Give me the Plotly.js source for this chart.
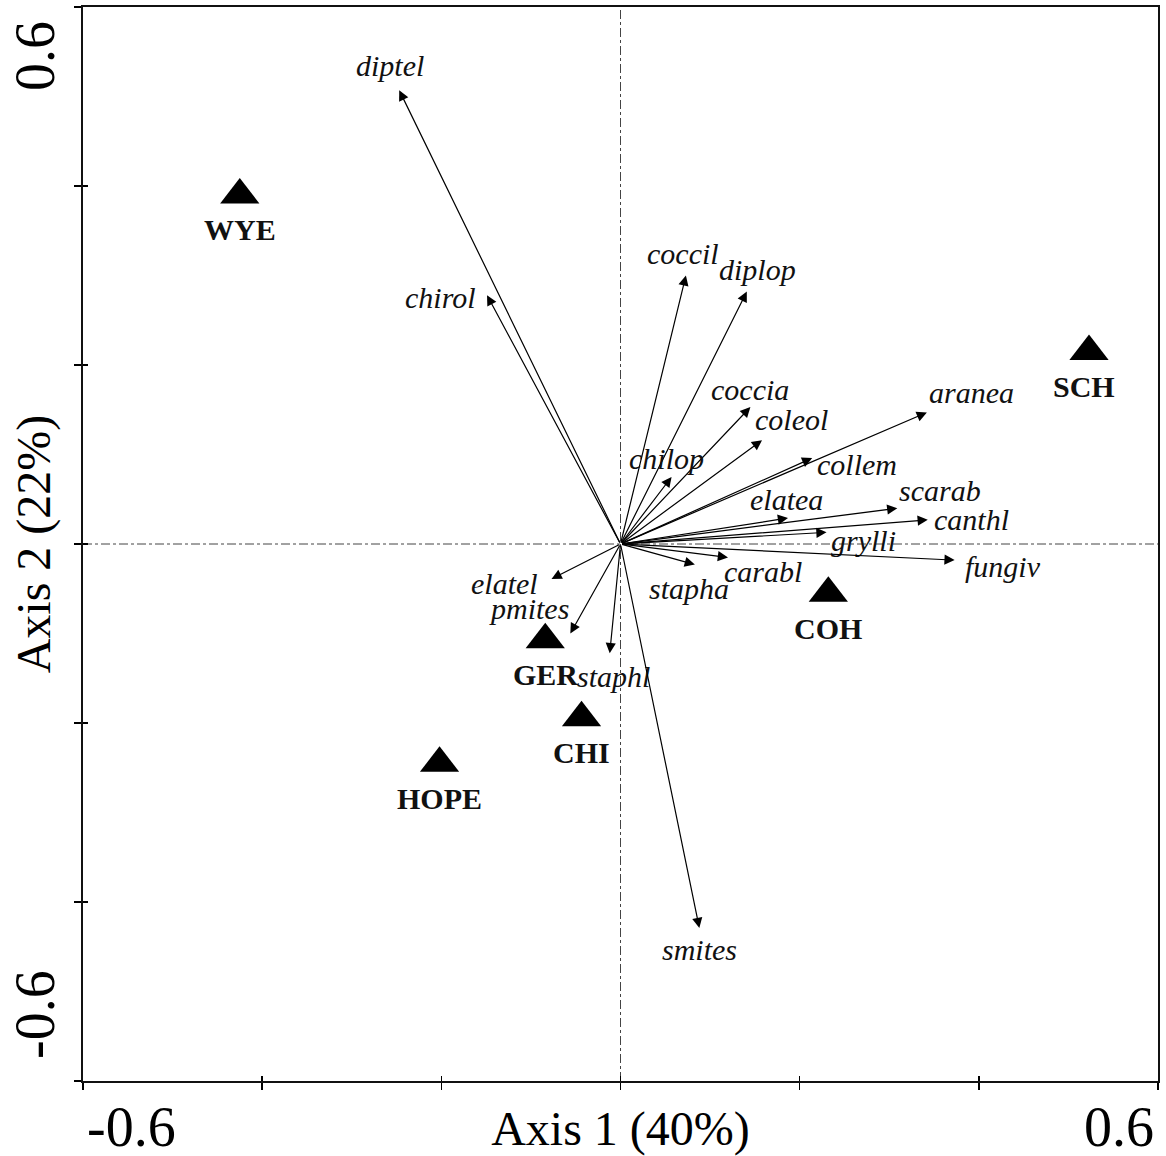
<!DOCTYPE html>
<html><head><meta charset="utf-8">
<script src="https://cdn.plot.ly/plotly-3.0.1.min.js"></script>
<style>body{margin:0;background:#fff}#chart{width:1166px;height:1156px}</style>
</head><body><div id="chart"></div>
<script>
// ---- data ----
const species = ['diptel','chirol','coccil','diplop','coccia','coleol','chilop','aranea','collem','elatea',
                 'scarab','canthl','grylli','fungiv','carabl','stapha','elatel','pmites','staphl','smites'];
const speciesX = [-0.247,-0.149,0.073,0.141,0.145,0.158,0.057,0.342,0.214,0.187,
                  0.309,0.343,0.230,0.373,0.120,0.083,-0.077,-0.056,-0.012,0.088];
const speciesY = [0.507,0.278,0.300,0.282,0.153,0.116,0.075,0.147,0.096,0.029,
                  0.040,0.027,0.013,-0.018,-0.015,-0.023,-0.039,-0.100,-0.122,-0.429];
const sites = ['WYE','SCH','COH','GER','CHI','HOPE'];
const siteX = [-0.425,0.523,0.232,-0.084,-0.0435,-0.202];
const siteY = [0.390,0.215,-0.055,-0.107,-0.194,-0.245];
const tickVals = [-0.6,-0.4,-0.2,0,0.2,0.4,0.6];
const endTickLabels = ['-0.6','0.6'];
const xTitle = 'Axis 1 (40%)';
const yTitle = 'Axis 2 (22%)';

// ---- label placement (pixel offsets from arrow tips) ----
const labelShift = {
  diptel:[-9,25], chirol:[-47,-2], coccil:[-3,22], diplop:[11,22], coccia:[0,18], coleol:[29,21],
  chilop:[-5,18], aranea:[45,20], collem:[45,-6], elatea:[-2,19], scarab:[43,18], canthl:[44,0],
  grylli:[37,-8], fungiv:[48,-6], carabl:[35,-14], stapha:[-6,-24], elatel:[-47,-5], pmites:[-41,25],
  staphl:[4,-23], smites:[0,-22]
};

const serif = 'Liberation Serif, Times New Roman, serif';
const annotations = [];

species.forEach((s, i) => {
  annotations.push({
    x: speciesX[i], y: speciesY[i], xref: 'x', yref: 'y',
    ax: 0, ay: 0, axref: 'x', ayref: 'y',
    text: '', font: {size: 1},
    showarrow: true, arrowhead: 2, arrowsize: 1.7, arrowwidth: 1.2, arrowcolor: '#000',
    standoff: 0, startstandoff: 0
  });
  annotations.push({
    x: speciesX[i], y: speciesY[i], xref: 'x', yref: 'y',
    text: '<i>' + s + '</i>', showarrow: false,
    xshift: labelShift[s][0], yshift: labelShift[s][1],
    font: {family: serif, size: 30, color: '#111'}
  });
});

sites.forEach((s, i) => {
  annotations.push({
    x: siteX[i], y: siteY[i], xref: 'x', yref: 'y',
    text: '<b>' + s + '</b>', showarrow: false, yshift: -35, xshift: s === 'SCH' ? -5 : 0,
    font: {family: serif, size: 30, color: '#111'}
  });
});

// end tick labels
const tickFont = {family: serif, size: 56, color: '#000'};
annotations.push({x: tickVals[0], y: 0, xref: 'x', yref: 'paper', text: endTickLabels[0], showarrow: false,
  xanchor: 'center', yanchor: 'middle', xshift: 48, yshift: -46, font: tickFont});
annotations.push({x: tickVals[tickVals.length-1], y: 0, xref: 'x', yref: 'paper', text: endTickLabels[1], showarrow: false,
  xanchor: 'center', yanchor: 'middle', xshift: -39, yshift: -46, font: tickFont});
annotations.push({x: 0, y: tickVals[tickVals.length-1], xref: 'paper', yref: 'y', text: endTickLabels[1], showarrow: false,
  textangle: -90, xanchor: 'center', yanchor: 'middle', xshift: -48, yshift: -49, font: tickFont});
annotations.push({x: 0, y: tickVals[0], xref: 'paper', yref: 'y', text: endTickLabels[0], showarrow: false,
  textangle: -90, xanchor: 'center', yanchor: 'middle', xshift: -48, yshift: 66, font: tickFont});

const traces = [
  {type: 'scatter', mode: 'markers', x: siteX, y: siteY, text: sites, hoverinfo: 'text',
   marker: {symbol: 'triangle-up', size: 34, color: '#000'}, showlegend: false},
  {type: 'scatter', mode: 'markers', x: [], y: [], xaxis: 'x2', yaxis: 'y2', showlegend: false, hoverinfo: 'skip'}
];

const axBase = {range: [-0.6, 0.6], showgrid: false, zeroline: false, tickvals: tickVals,
  showticklabels: false, ticklen: 7, tickwidth: 1.5, tickcolor: '#000', automargin: false};

const layout = {
  width: 1166, height: 1156,
  margin: {l: 83, r: 8, t: 7, b: 75},
  paper_bgcolor: '#fff', plot_bgcolor: '#fff',
  showlegend: false,
  font: {family: serif, color: '#000'},
  xaxis: Object.assign({}, axBase, {ticks: 'outside', showline: true, linewidth: 2, linecolor: '#111', mirror: true,
    title: {text: xTitle, font: {family: serif, size: 48, color: '#000'}, standoff: 35}}),
  yaxis: Object.assign({}, axBase, {ticks: 'outside', showline: true, linewidth: 2, linecolor: '#111', mirror: true,
    title: {text: yTitle, font: {family: serif, size: 48, color: '#000'}, standoff: 8}}),
  xaxis2: Object.assign({}, axBase, {ticks: 'inside', ticklen: 5, overlaying: 'x', anchor: 'y2', side: 'bottom', showline: false}),
  yaxis2: Object.assign({}, axBase, {ticks: 'inside', ticklen: 5, overlaying: 'y', anchor: 'x2', side: 'left', showline: false}),
  shapes: [
    {type: 'line', xref: 'x', yref: 'paper', x0: 0, x1: 0, y0: 0, y1: 1, layer: 'below',
     line: {color: '#444', width: 1, dash: 'dashdot'}},
    {type: 'line', xref: 'paper', yref: 'y', x0: 0, x1: 1, y0: 0, y1: 0, layer: 'below',
     line: {color: '#444', width: 1, dash: 'dashdot'}}
  ],
  annotations: annotations
};

Plotly.newPlot('chart', traces, layout, {displayModeBar: false, staticPlot: true});
</script>
</body></html>
